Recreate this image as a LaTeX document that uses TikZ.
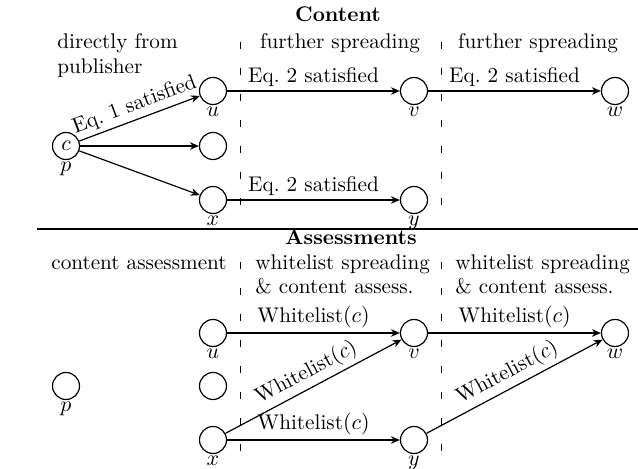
\documentclass[tikz,border=0pt]{standalone}
\usetikzlibrary{arrows.meta}
\begin{document}
\begin{tikzpicture}[x=0.5pt,y=-0.5pt,
  every node/.style={font=\fontsize{10.6}{12.7}\selectfont},
  vtx/.style={circle,draw,line width=0.6pt,minimum size=13.5pt,inner sep=0pt},
  lbl/.style={label={[inner sep=0.8pt]below:$#1$}},
  arr/.style={-{Stealth[length=4.5pt,width=3.8pt]},line width=0.6pt},
  sep/.style={line width=0.5pt,dash pattern=on 3.5pt off 9.5pt},
  txt/.style={inner sep=0pt,anchor=base},
  txtl/.style={inner sep=0pt,anchor=base west},
  elab/.style={midway,above,sloped,inner sep=2pt}]
\useasboundingbox (0,0) rectangle (638,469);

% ---------- Content ----------
\node[txt,font=\fontsize{10.6}{12.7}\selectfont\bfseries] (tC) at (338,22) {Content};
\node[txtl] (t1a) at (57,49) {directly from};
\node[txtl] (t1b) at (57,74) {publisher};
\node[txt] (t2) at (340,49) {further spreading};
\node[txt] (t3) at (538,49) {further spreading};

\coordinate (d1a) at (240,42); \coordinate (d1b) at (240,215);
\coordinate (d2a) at (441,42); \coordinate (d2b) at (441,215);
\draw[sep] (d1a) -- (d1b);
\draw[sep] (d2a) -- (d2b);

\node[vtx,lbl=p] (c) at (66,146) {$c$};
\node[vtx,lbl=u] (u) at (213,91) {};
\node[vtx] (m) at (213,146) {};
\node[vtx,lbl=x] (x) at (213,200) {};
\node[vtx,lbl=v] (v) at (414,91) {};
\node[vtx,lbl=y] (y) at (414,200) {};
\node[vtx,lbl=w] (w) at (615,91) {};

\draw[arr] (c) -- node[elab] {Eq.~1 satisfied} (u);
\draw[arr] (c) -- (m);
\draw[arr] (c) -- (x);
\draw[arr] (u) -- node[elab] {Eq.~2 satisfied} (v);
\draw[arr] (v) -- node[elab] {Eq.~2 satisfied} (w);
\draw[arr] (x) -- node[elab] {Eq.~2 satisfied} (y);

% ---------- rule ----------
\coordinate (ra) at (37,229); \coordinate (rb) at (638,229);
\draw[line width=0.6pt] (ra) -- (rb);

% ---------- Assessments ----------
\node[txt,font=\fontsize{10.6}{12.7}\selectfont\bfseries] (tA) at (351,245) {Assessments};
\node[txt] (a1) at (139,270) {content assessment};
\node[txtl] (a2a) at (255,270) {whitelist spreading};
\node[txtl] (a2b) at (255,294) {\& content assess.};
\node[txtl] (a3a) at (455,270) {whitelist spreading};
\node[txtl] (a3b) at (455,294) {\& content assess.};

\coordinate (e1a) at (240,262); \coordinate (e1b) at (240,462);
\coordinate (e2a) at (441,262); \coordinate (e2b) at (441,462);
\draw[sep] (e1a) -- (e1b);
\draw[sep] (e2a) -- (e2b);

\node[vtx,lbl=p] (P) at (66,386) {};
\node[vtx,lbl=u] (U) at (213,333) {};
\node[vtx] (M) at (213,386) {};
\node[vtx,lbl=x] (X) at (213,440) {};
\node[vtx,lbl=v] (V) at (414,333) {};
\node[vtx,lbl=y] (Y) at (414,440) {};
\node[vtx,lbl=w] (W) at (615,333) {};

\draw[arr] (U) -- node[elab] {Whitelist$(c)$} (V);
\draw[arr] (X) -- node[elab] {Whitelist$(c)$} (V);
\draw[arr] (X) -- node[elab] {Whitelist$(c)$} (Y);
\draw[arr] (V) -- node[elab] {Whitelist$(c)$} (W);
\draw[arr] (Y) -- node[elab] {Whitelist$(c)$} (W);
\end{tikzpicture}
\end{document}
